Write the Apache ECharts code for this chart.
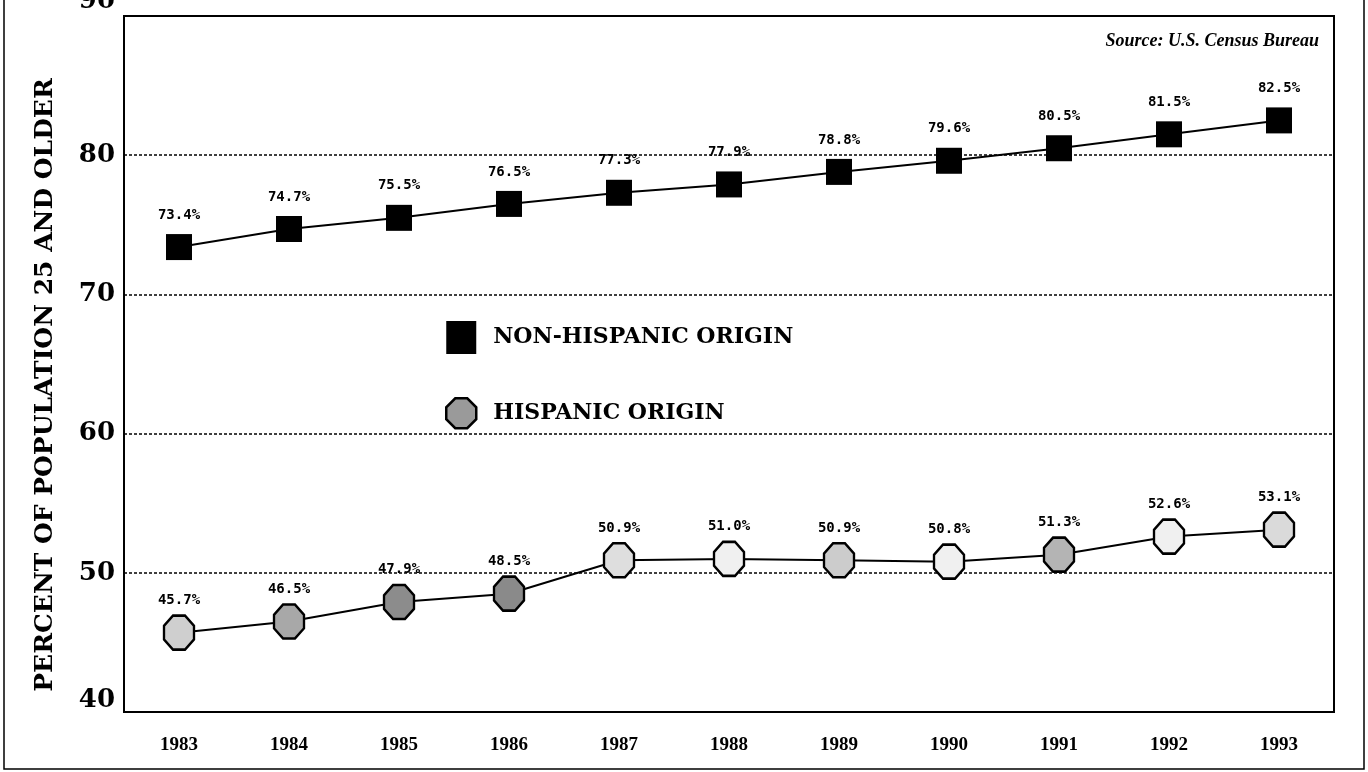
<!DOCTYPE html>
<html>
<head>
<meta charset="utf-8">
<script src="https://cdn.jsdelivr.net/npm/echarts@6/dist/echarts.min.js"></script>
<style>
html,body{margin:0;padding:0;background:#fff;}
#chart{width:1368px;height:772px;}
</style>
</head>
<body>
<div id="chart"></div>
<script>
const years = ['1983','1984','1985','1986','1987','1988','1989','1990','1991','1992','1993'];
const nonHispanic = [73.4, 74.7, 75.5, 76.5, 77.3, 77.9, 78.8, 79.6, 80.5, 81.5, 82.5];
const hispanic = [45.7, 46.5, 47.9, 48.5, 50.9, 51.0, 50.9, 50.8, 51.3, 52.6, 53.1];
const yTicks = [40, 50, 60, 70, 80, 90];
const hispanicFills = ['#cfcfcf','#a8a8a8','#8c8c8c','#8a8a8a','#dedede','#f0f0f0','#cccccc','#f0f0f0','#b4b4b4','#f0f0f0','#dadada'];

const octagon = 'path://M30,0 L70,0 L100,30 L100,70 L70,100 L30,100 L0,70 L0,30 Z';

const chart = echarts.init(document.getElementById('chart'));
const labelStyle = {
  show: true,
  position: 'top',
  distance: 12,
  color: '#000',
  fontFamily: 'DejaVu Sans Mono',
  fontWeight: 'bold',
  fontSize: 14,
  formatter: p => p.value.toFixed(1) + '%'
};
const tickFont = {color: '#000', fontFamily: 'DejaVu Serif', fontWeight: 'bold', fontSize: 26};
chart.setOption({
  animation: false,
  backgroundColor: '#fff',
  title: {
    text: 'Source: U.S. Census Bureau',
    right: 44,
    top: 27,
    textStyle: {fontFamily: 'Liberation Serif', fontStyle: 'italic', fontWeight: 'bold', fontSize: 18, color: '#000'}
  },
  graphic: [{
    type: 'rect', shape: {x: 4, y: -10, width: 1360, height: 779},
    style: {fill: 'none', stroke: '#000', lineWidth: 1.5}, silent: true
  }],
  legend: {
    orient: 'vertical',
    left: 440,
    top: 316,
    itemWidth: 30,
    itemHeight: 33,
    itemGap: 43,
    textStyle: {fontFamily: 'DejaVu Serif', fontWeight: 'bold', fontSize: 22, color: '#000', padding: [0,0,0,12]},
    data: [
      {name: 'NON-HISPANIC ORIGIN', icon: 'rect', itemStyle: {color: '#000', borderWidth: 0}},
      {name: 'HISPANIC ORIGIN', icon: octagon, itemStyle: {color: '#9a9a9a', borderColor: '#000', borderWidth: 2.5}}
    ]
  },
  grid: {
    left: 124, right: 34, top: 16, bottom: 60,
    containLabel: false,
    outerBoundsMode: 'none',
    show: true, borderColor: '#000', borderWidth: 2
  },
  xAxis: {
    type: 'category',
    data: years,
    boundaryGap: true,
    axisLine: {show: false},
    axisTick: {show: false},
    axisLabel: {margin: 24, color: '#000', fontFamily: 'Liberation Serif', fontWeight: 'bold', fontSize: 19}
  },
  yAxis: {
    type: 'value',
    min: 40, max: 90, interval: 10,
    axisLine: {show: false},
    axisTick: {show: false},
    axisLabel: {
      margin: 9,
      formatter: v => {
        if (!yTicks.includes(v)) return '';
        if (v === 90) return '{hi|' + v + '}';
        if (v === 40) return '{lo|' + v + '}';
        return '{n|' + v + '}';
      },
      rich: {
        n: tickFont,
        hi: Object.assign({}, tickFont, {padding: [0, 0, 30, 0]}),
        lo: Object.assign({}, tickFont, {padding: [0, 0, 24, 0]})
      }
    },
    splitLine: {show: true, lineStyle: {color: '#000', type: [3, 2], width: 1.5}},
    name: 'PERCENT OF POPULATION 25 AND OLDER',
    nameLocation: 'middle',
    nameRotate: 90,
    nameGap: 66,
    nameTextStyle: {fontFamily: 'DejaVu Serif', fontWeight: 'bold', fontSize: 25, color: '#000', padding: [0, 42, 0, 0]}
  },
  series: [
    {
      name: 'NON-HISPANIC ORIGIN',
      type: 'line',
      data: nonHispanic,
      symbol: 'rect',
      symbolSize: 26,
      lineStyle: {color: '#000', width: 2},
      itemStyle: {color: '#000'},
      label: labelStyle
    },
    {
      name: 'HISPANIC ORIGIN',
      type: 'line',
      data: hispanic.map((v, i) => ({value: v, itemStyle: {color: hispanicFills[i]}})),
      symbol: octagon,
      symbolSize: [30, 34],
      lineStyle: {color: '#000', width: 2},
      itemStyle: {color: '#bbb', borderColor: '#000', borderWidth: 2.5},
      label: Object.assign({}, labelStyle, {distance: 7})
    }
  ]
});
</script>
</body>
</html>
